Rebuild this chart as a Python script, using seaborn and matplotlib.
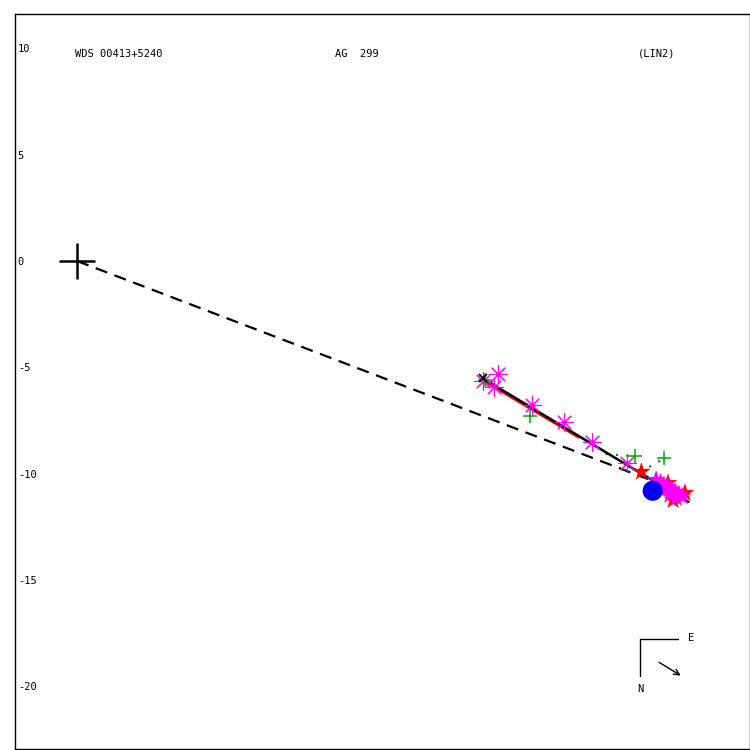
import numpy as np
import pandas as pd
import matplotlib
matplotlib.use("Agg")
import matplotlib.pyplot as plt
import seaborn as sns

# Measures / fitted elements (arcsec offsets)
ast_x = [19.09, 19.83, 19.62, 21.40, 22.93, 24.25, 25.87]
ast_y = [-5.63, -5.32, -5.92, -6.78, -7.56, -8.53, -9.52]

plus_x = [19.20, 21.32, 26.26, 27.64]
plus_y = [-5.60, -7.29, -9.18, -9.28]

# O-C segments for the green measures (fit point -> measure)
oc_x = [[24.87, 26.26], [26.50, 27.64]]
oc_y = [[-9.08, -9.18], [-9.93, -9.28]]

redstar_x = [26.56, 28.61, 28.05, 27.81]
redstar_y = [-9.92, -10.92, -11.25, -10.45]

magstar_x = [27.25, 27.45, 27.62, 27.80, 27.98, 28.15, 28.32, 28.48, 27.45, 27.90, 28.20]
magstar_y = [-10.30, -10.42, -10.55, -10.64, -10.75, -10.86, -10.98, -11.08, -10.75, -11.00, -11.15]

blue_x = [27.09]
blue_y = [-10.81]

fit_x = [19.09, 28.77]
fit_y = [-5.52, -11.33]
red_x = [19.00, 23.60]
red_y = [-5.57, -8.31]

dash_x = [0.0, 26.87]
dash_y = [0.0, -10.26]

yticks = [10, 5, 0, -5, -10, -15, -20]

sns.set_style("white")
plt.rcParams["font.family"] = ["DejaVu Sans Mono", "DejaVu Sans"]

fig = plt.figure(figsize=(7.5, 7.5), dpi=100)
ax = fig.add_axes([0.02, 0.0013, 0.98, 0.98])

# primary
ax.plot([0], [0], marker="+", ms=26, mew=1.8, color="black", ls="none", zorder=5)
# line to predicted position
ax.plot(dash_x, dash_y, color="black", lw=1.6, ls=(0, (5.5, 3.5)), zorder=3)
# fitted linear motion
ax.plot(red_x, red_y, color="red", lw=1.4, zorder=3)
ax.plot(fit_x, fit_y, color="black", lw=1.8, zorder=4)
for xs, ys in zip(oc_x, oc_y):
    ax.plot(xs, ys, color="green", lw=1.5, ls=(0, (1, 4)), zorder=3)

sns.scatterplot(x=ast_x, y=ast_y, ax=ax, marker=(8, 2, 0), s=170,
                color="magenta", linewidth=0.8, zorder=6)
sns.scatterplot(x=plus_x, y=plus_y, ax=ax, marker="+", s=110,
                color="#00aa00", linewidth=1.1, zorder=6)
sns.scatterplot(x=magstar_x, y=magstar_y, ax=ax, marker="*", s=200,
                color="magenta", edgecolor="none", zorder=5)
sns.scatterplot(x=redstar_x, y=redstar_y, ax=ax, marker="*", s=200,
                color="red", edgecolor="none", zorder=4)
sns.scatterplot(x=blue_x, y=blue_y, ax=ax, marker="o", s=210,
                color="blue", edgecolor="none", zorder=6)
ax.plot([fit_x[0]], [fit_y[0]], marker="x", ms=6, mew=1.3, color="black",
        ls="none", zorder=7)

ax.set_xlim(-2.92, 31.67)
ax.set_ylim(-22.96, 11.62)
ax.set_xticks([])
ax.set_yticks(yticks)
ax.set_yticklabels([str(v) for v in yticks], fontsize=7.5, color="black")
ax.tick_params(axis="y", length=0, pad=-2)
for lab in ax.get_yticklabels():
    lab.set_horizontalalignment("left")

for sp in ax.spines.values():
    sp.set_color("black")
    sp.set_linewidth(1)

txt = dict(transform=ax.transAxes, fontsize=7.5, va="center", color="black")
ax.text(0.082, 0.946, "WDS 00413+5240", **txt)
ax.text(0.435, 0.946, "AG  299", **txt)
ax.text(0.848, 0.946, "(LIN2)", **txt)

# orientation
ax.plot([0.850, 0.902], [0.150, 0.150], color="black", lw=1, transform=ax.transAxes)
ax.plot([0.850, 0.850], [0.150, 0.0993], color="black", lw=1, transform=ax.transAxes)
ax.text(0.916, 0.151, "E", **txt)
ax.text(0.846, 0.082, "N", **txt)
ax.annotate("", xy=(0.909, 0.098), xytext=(0.873, 0.120), xycoords="axes fraction",
            arrowprops=dict(arrowstyle="->", color="black", lw=1))

fig.savefig("out.png", dpi=100)
